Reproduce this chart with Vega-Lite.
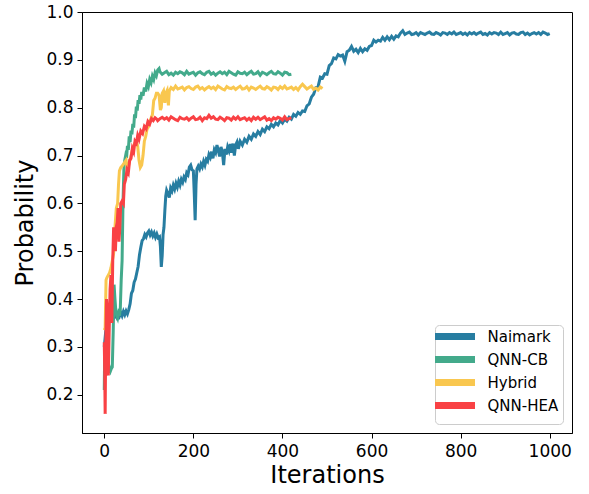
{
  "$schema": "https://vega.github.io/schema/vega-lite/v6.json",
  "width": 490,
  "height": 421,
  "autosize": "none",
  "padding": {"left": 82, "top": 12, "right": 17, "bottom": 61},
  "background": "white",
  "config": {
    "font": "DejaVu Sans",
    "view": {"stroke": "black", "strokeWidth": 1},
    "axis": {"grid": false, "domainColor": "black", "tickColor": "black", "tickSize": 5, "labelColor": "black", "titleColor": "black", "labelFontSize": 17, "titleFontSize": 24, "titleFontWeight": "normal", "labelFont": "DejaVu Sans", "titleFont": "DejaVu Sans"}
  },
  "datasets": {
    "Naimark": [{"i":0,"p":0.30},{"i":3,"p":0.33},{"i":6,"p":0.355},{"i":10,"p":0.365},{"i":13,"p":0.36},{"i":16,"p":0.369},{"i":19,"p":0.363},{"i":22,"p":0.361},{"i":25,"p":0.368},{"i":28,"p":0.362},{"i":31,"p":0.369},{"i":34,"p":0.364},{"i":37,"p":0.372},{"i":40,"p":0.365},{"i":43,"p":0.374},{"i":46,"p":0.367},{"i":49,"p":0.375},{"i":52,"p":0.369},{"i":55,"p":0.378},{"i":58,"p":0.39},{"i":61,"p":0.412},{"i":64,"p":0.418},{"i":67,"p":0.435},{"i":70,"p":0.442},{"i":73,"p":0.455},{"i":76,"p":0.468},{"i":79,"p":0.492},{"i":82,"p":0.508},{"i":85,"p":0.522},{"i":88,"p":0.526},{"i":91,"p":0.535},{"i":94,"p":0.53},{"i":97,"p":0.538},{"i":100,"p":0.542},{"i":103,"p":0.534},{"i":106,"p":0.54},{"i":109,"p":0.532},{"i":112,"p":0.538},{"i":115,"p":0.529},{"i":118,"p":0.536},{"i":121,"p":0.528},{"i":124,"p":0.53},{"i":126,"p":0.51},{"i":128,"p":0.467},{"i":130,"p":0.49},{"i":132,"p":0.535},{"i":134,"p":0.55},{"i":136,"p":0.585},{"i":138,"p":0.615},{"i":140,"p":0.627},{"i":143,"p":0.62},{"i":146,"p":0.612},{"i":149,"p":0.632},{"i":152,"p":0.626},{"i":155,"p":0.638},{"i":158,"p":0.63},{"i":161,"p":0.642},{"i":164,"p":0.634},{"i":167,"p":0.646},{"i":170,"p":0.638},{"i":173,"p":0.65},{"i":176,"p":0.644},{"i":179,"p":0.655},{"i":182,"p":0.65},{"i":185,"p":0.664},{"i":188,"p":0.66},{"i":191,"p":0.676},{"i":194,"p":0.68},{"i":197,"p":0.67},{"i":200,"p":0.668},{"i":202,"p":0.62},{"i":204,"p":0.565},{"i":206,"p":0.64},{"i":208,"p":0.672},{"i":211,"p":0.678},{"i":214,"p":0.672},{"i":217,"p":0.682},{"i":220,"p":0.676},{"i":223,"p":0.688},{"i":226,"p":0.68},{"i":229,"p":0.692},{"i":232,"p":0.688},{"i":235,"p":0.702},{"i":238,"p":0.696},{"i":241,"p":0.708},{"i":244,"p":0.694},{"i":247,"p":0.712},{"i":250,"p":0.706},{"i":253,"p":0.722},{"i":256,"p":0.71},{"i":259,"p":0.698},{"i":262,"p":0.718},{"i":265,"p":0.708},{"i":268,"p":0.68},{"i":271,"p":0.714},{"i":274,"p":0.702},{"i":277,"p":0.718},{"i":280,"p":0.71},{"i":283,"p":0.724},{"i":286,"p":0.706},{"i":289,"p":0.725},{"i":292,"p":0.7},{"i":295,"p":0.722},{"i":298,"p":0.728},{"i":301,"p":0.714},{"i":305,"p":0.73},{"i":310,"p":0.722},{"i":315,"p":0.734},{"i":320,"p":0.728},{"i":325,"p":0.74},{"i":330,"p":0.734},{"i":335,"p":0.745},{"i":340,"p":0.74},{"i":345,"p":0.75},{"i":350,"p":0.744},{"i":355,"p":0.755},{"i":360,"p":0.75},{"i":365,"p":0.76},{"i":370,"p":0.756},{"i":375,"p":0.765},{"i":380,"p":0.76},{"i":385,"p":0.768},{"i":390,"p":0.764},{"i":395,"p":0.773},{"i":400,"p":0.768},{"i":405,"p":0.776},{"i":410,"p":0.772},{"i":415,"p":0.78},{"i":420,"p":0.776},{"i":425,"p":0.786},{"i":430,"p":0.782},{"i":435,"p":0.79},{"i":440,"p":0.786},{"i":445,"p":0.793},{"i":450,"p":0.792},{"i":455,"p":0.804},{"i":460,"p":0.808},{"i":465,"p":0.822},{"i":470,"p":0.828},{"i":475,"p":0.842},{"i":480,"p":0.844},{"i":485,"p":0.864},{"i":490,"p":0.862},{"i":495,"p":0.871},{"i":500,"p":0.87},{"i":505,"p":0.888},{"i":510,"p":0.892},{"i":515,"p":0.904},{"i":520,"p":0.902},{"i":525,"p":0.911},{"i":530,"p":0.908},{"i":535,"p":0.91},{"i":540,"p":0.897},{"i":545,"p":0.917},{"i":550,"p":0.92},{"i":555,"p":0.928},{"i":560,"p":0.918},{"i":565,"p":0.922},{"i":570,"p":0.915},{"i":575,"p":0.924},{"i":580,"p":0.917},{"i":585,"p":0.923},{"i":590,"p":0.92},{"i":595,"p":0.928},{"i":600,"p":0.93},{"i":605,"p":0.941},{"i":610,"p":0.937},{"i":615,"p":0.941},{"i":620,"p":0.939},{"i":625,"p":0.947},{"i":630,"p":0.941},{"i":635,"p":0.948},{"i":640,"p":0.942},{"i":645,"p":0.949},{"i":650,"p":0.943},{"i":655,"p":0.95},{"i":660,"p":0.948},{"i":665,"p":0.956},{"i":670,"p":0.961},{"i":675,"p":0.953},{"i":680,"p":0.956},{"i":685,"p":0.958},{"i":690,"p":0.953},{"i":695,"p":0.954},{"i":700,"p":0.957},{"i":705,"p":0.952},{"i":710,"p":0.957},{"i":715,"p":0.955},{"i":720,"p":0.953},{"i":725,"p":0.956},{"i":730,"p":0.958},{"i":735,"p":0.954},{"i":740,"p":0.953},{"i":745,"p":0.957},{"i":750,"p":0.955},{"i":755,"p":0.952},{"i":760,"p":0.957},{"i":765,"p":0.956},{"i":770,"p":0.953},{"i":775,"p":0.957},{"i":780,"p":0.954},{"i":785,"p":0.958},{"i":790,"p":0.953},{"i":795,"p":0.955},{"i":800,"p":0.957},{"i":805,"p":0.953},{"i":810,"p":0.956},{"i":815,"p":0.952},{"i":820,"p":0.957},{"i":825,"p":0.954},{"i":830,"p":0.957},{"i":835,"p":0.953},{"i":840,"p":0.956},{"i":845,"p":0.958},{"i":850,"p":0.953},{"i":855,"p":0.955},{"i":860,"p":0.952},{"i":865,"p":0.957},{"i":870,"p":0.954},{"i":875,"p":0.957},{"i":880,"p":0.956},{"i":885,"p":0.953},{"i":890,"p":0.958},{"i":895,"p":0.953},{"i":900,"p":0.955},{"i":905,"p":0.957},{"i":910,"p":0.952},{"i":915,"p":0.956},{"i":920,"p":0.957},{"i":925,"p":0.954},{"i":930,"p":0.953},{"i":935,"p":0.957},{"i":940,"p":0.958},{"i":945,"p":0.953},{"i":950,"p":0.956},{"i":955,"p":0.952},{"i":960,"p":0.955},{"i":965,"p":0.957},{"i":970,"p":0.954},{"i":975,"p":0.957},{"i":980,"p":0.953},{"i":985,"p":0.958},{"i":990,"p":0.956},{"i":995,"p":0.953},{"i":1000,"p":0.955}],
    "QNN-CB": [{"i":0,"p":0.21},{"i":1,"p":0.30},{"i":2,"p":0.27},{"i":4,"p":0.255},{"i":6,"p":0.25},{"i":8,"p":0.258},{"i":10,"p":0.252},{"i":12,"p":0.256},{"i":14,"p":0.25},{"i":16,"p":0.255},{"i":18,"p":0.258},{"i":20,"p":0.33},{"i":22,"p":0.43},{"i":24,"p":0.40},{"i":26,"p":0.375},{"i":28,"p":0.365},{"i":30,"p":0.36},{"i":32,"p":0.37},{"i":34,"p":0.365},{"i":36,"p":0.38},{"i":38,"p":0.44},{"i":40,"p":0.48},{"i":42,"p":0.60},{"i":44,"p":0.67},{"i":46,"p":0.69},{"i":48,"p":0.70},{"i":50,"p":0.695},{"i":52,"p":0.72},{"i":54,"p":0.712},{"i":56,"p":0.74},{"i":58,"p":0.728},{"i":60,"p":0.752},{"i":62,"p":0.744},{"i":64,"p":0.766},{"i":66,"p":0.758},{"i":68,"p":0.786},{"i":70,"p":0.778},{"i":72,"p":0.802},{"i":74,"p":0.794},{"i":76,"p":0.816},{"i":78,"p":0.808},{"i":80,"p":0.826},{"i":82,"p":0.817},{"i":84,"p":0.833},{"i":87,"p":0.825},{"i":90,"p":0.842},{"i":93,"p":0.834},{"i":96,"p":0.851},{"i":99,"p":0.844},{"i":102,"p":0.859},{"i":105,"p":0.852},{"i":108,"p":0.866},{"i":111,"p":0.859},{"i":114,"p":0.873},{"i":117,"p":0.867},{"i":120,"p":0.879},{"i":123,"p":0.882},{"i":125,"p":0.875},{"i":130,"p":0.87},{"i":135,"p":0.873},{"i":140,"p":0.876},{"i":145,"p":0.869},{"i":150,"p":0.872},{"i":155,"p":0.868},{"i":160,"p":0.874},{"i":165,"p":0.871},{"i":170,"p":0.875},{"i":175,"p":0.873},{"i":180,"p":0.869},{"i":185,"p":0.876},{"i":190,"p":0.87},{"i":195,"p":0.872},{"i":200,"p":0.874},{"i":205,"p":0.868},{"i":210,"p":0.873},{"i":215,"p":0.875},{"i":220,"p":0.871},{"i":225,"p":0.869},{"i":230,"p":0.874},{"i":235,"p":0.876},{"i":240,"p":0.87},{"i":245,"p":0.873},{"i":250,"p":0.868},{"i":255,"p":0.872},{"i":260,"p":0.875},{"i":265,"p":0.871},{"i":270,"p":0.874},{"i":275,"p":0.869},{"i":280,"p":0.876},{"i":285,"p":0.873},{"i":290,"p":0.87},{"i":295,"p":0.868},{"i":300,"p":0.875},{"i":305,"p":0.872},{"i":310,"p":0.871},{"i":315,"p":0.874},{"i":320,"p":0.869},{"i":325,"p":0.873},{"i":330,"p":0.876},{"i":335,"p":0.87},{"i":340,"p":0.871},{"i":345,"p":0.875},{"i":350,"p":0.868},{"i":355,"p":0.874},{"i":360,"p":0.872},{"i":365,"p":0.869},{"i":370,"p":0.873},{"i":375,"p":0.876},{"i":380,"p":0.871},{"i":385,"p":0.87},{"i":390,"p":0.875},{"i":395,"p":0.872},{"i":400,"p":0.868},{"i":405,"p":0.874},{"i":410,"p":0.873},{"i":415,"p":0.869},{"i":420,"p":0.87}],
    "Hybrid": [{"i":0,"p":0.335},{"i":2,"p":0.34},{"i":4,"p":0.44},{"i":6,"p":0.445},{"i":9,"p":0.45},{"i":12,"p":0.455},{"i":15,"p":0.465},{"i":18,"p":0.48},{"i":21,"p":0.495},{"i":24,"p":0.55},{"i":27,"p":0.59},{"i":30,"p":0.60},{"i":32,"p":0.64},{"i":34,"p":0.668},{"i":37,"p":0.675},{"i":40,"p":0.678},{"i":43,"p":0.682},{"i":46,"p":0.686},{"i":49,"p":0.69},{"i":52,"p":0.67},{"i":56,"p":0.685},{"i":60,"p":0.70},{"i":64,"p":0.715},{"i":68,"p":0.725},{"i":72,"p":0.73},{"i":75,"p":0.72},{"i":78,"p":0.69},{"i":81,"p":0.675},{"i":84,"p":0.68},{"i":87,"p":0.70},{"i":90,"p":0.73},{"i":93,"p":0.74},{"i":96,"p":0.755},{"i":99,"p":0.76},{"i":102,"p":0.77},{"i":105,"p":0.778},{"i":108,"p":0.785},{"i":111,"p":0.815},{"i":114,"p":0.82},{"i":117,"p":0.83},{"i":120,"p":0.83},{"i":123,"p":0.826},{"i":126,"p":0.795},{"i":128,"p":0.80},{"i":130,"p":0.83},{"i":133,"p":0.835},{"i":136,"p":0.81},{"i":138,"p":0.83},{"i":141,"p":0.836},{"i":144,"p":0.805},{"i":146,"p":0.835},{"i":150,"p":0.842},{"i":155,"p":0.838},{"i":160,"p":0.845},{"i":165,"p":0.839},{"i":170,"p":0.841},{"i":175,"p":0.843},{"i":180,"p":0.837},{"i":185,"p":0.842},{"i":190,"p":0.844},{"i":195,"p":0.84},{"i":200,"p":0.838},{"i":205,"p":0.843},{"i":210,"p":0.845},{"i":215,"p":0.839},{"i":220,"p":0.842},{"i":225,"p":0.837},{"i":230,"p":0.841},{"i":235,"p":0.844},{"i":240,"p":0.84},{"i":245,"p":0.843},{"i":250,"p":0.838},{"i":255,"p":0.845},{"i":260,"p":0.842},{"i":265,"p":0.839},{"i":270,"p":0.837},{"i":275,"p":0.844},{"i":280,"p":0.841},{"i":285,"p":0.84},{"i":290,"p":0.843},{"i":295,"p":0.838},{"i":300,"p":0.842},{"i":305,"p":0.845},{"i":310,"p":0.839},{"i":315,"p":0.84},{"i":320,"p":0.844},{"i":325,"p":0.837},{"i":330,"p":0.843},{"i":335,"p":0.841},{"i":340,"p":0.838},{"i":345,"p":0.842},{"i":350,"p":0.845},{"i":355,"p":0.84},{"i":360,"p":0.839},{"i":365,"p":0.844},{"i":370,"p":0.841},{"i":375,"p":0.837},{"i":380,"p":0.843},{"i":385,"p":0.842},{"i":390,"p":0.838},{"i":395,"p":0.844},{"i":400,"p":0.84},{"i":405,"p":0.845},{"i":410,"p":0.839},{"i":415,"p":0.841},{"i":420,"p":0.843},{"i":425,"p":0.838},{"i":430,"p":0.842},{"i":435,"p":0.837},{"i":440,"p":0.844},{"i":445,"p":0.849},{"i":450,"p":0.844},{"i":455,"p":0.839},{"i":460,"p":0.842},{"i":465,"p":0.845},{"i":470,"p":0.838},{"i":475,"p":0.841},{"i":480,"p":0.837},{"i":485,"p":0.843},{"i":490,"p":0.84}],
    "QNN-HEA": [{"i":0,"p":0.31},{"i":1,"p":0.25},{"i":2,"p":0.16},{"i":3,"p":0.28},{"i":5,"p":0.40},{"i":7,"p":0.37},{"i":9,"p":0.24},{"i":11,"p":0.33},{"i":13,"p":0.42},{"i":15,"p":0.45},{"i":17,"p":0.35},{"i":19,"p":0.48},{"i":21,"p":0.55},{"i":23,"p":0.52},{"i":25,"p":0.50},{"i":27,"p":0.55},{"i":29,"p":0.56},{"i":31,"p":0.59},{"i":33,"p":0.52},{"i":35,"p":0.55},{"i":37,"p":0.60},{"i":40,"p":0.605},{"i":43,"p":0.60},{"i":45,"p":0.64},{"i":48,"p":0.65},{"i":51,"p":0.67},{"i":54,"p":0.664},{"i":57,"p":0.69},{"i":60,"p":0.694},{"i":63,"p":0.715},{"i":66,"p":0.708},{"i":69,"p":0.73},{"i":72,"p":0.726},{"i":75,"p":0.742},{"i":78,"p":0.734},{"i":82,"p":0.751},{"i":86,"p":0.746},{"i":90,"p":0.761},{"i":94,"p":0.756},{"i":98,"p":0.771},{"i":102,"p":0.766},{"i":106,"p":0.777},{"i":110,"p":0.773},{"i":114,"p":0.779},{"i":118,"p":0.776},{"i":120,"p":0.773},{"i":125,"p":0.777},{"i":130,"p":0.78},{"i":135,"p":0.776},{"i":140,"p":0.779},{"i":145,"p":0.774},{"i":150,"p":0.781},{"i":155,"p":0.778},{"i":160,"p":0.775},{"i":165,"p":0.773},{"i":170,"p":0.78},{"i":175,"p":0.777},{"i":180,"p":0.776},{"i":185,"p":0.779},{"i":190,"p":0.774},{"i":195,"p":0.778},{"i":200,"p":0.781},{"i":205,"p":0.775},{"i":210,"p":0.776},{"i":215,"p":0.78},{"i":220,"p":0.773},{"i":225,"p":0.779},{"i":230,"p":0.777},{"i":235,"p":0.784},{"i":240,"p":0.778},{"i":245,"p":0.781},{"i":250,"p":0.776},{"i":255,"p":0.775},{"i":260,"p":0.78},{"i":265,"p":0.777},{"i":270,"p":0.773},{"i":275,"p":0.779},{"i":280,"p":0.778},{"i":285,"p":0.774},{"i":290,"p":0.78},{"i":295,"p":0.776},{"i":300,"p":0.781},{"i":305,"p":0.775},{"i":310,"p":0.777},{"i":315,"p":0.779},{"i":320,"p":0.774},{"i":325,"p":0.778},{"i":330,"p":0.773},{"i":335,"p":0.78},{"i":340,"p":0.776},{"i":345,"p":0.78},{"i":350,"p":0.775},{"i":355,"p":0.778},{"i":360,"p":0.781},{"i":365,"p":0.774},{"i":370,"p":0.777},{"i":375,"p":0.773},{"i":380,"p":0.779},{"i":385,"p":0.776},{"i":390,"p":0.78},{"i":395,"p":0.778},{"i":400,"p":0.774},{"i":405,"p":0.781},{"i":410,"p":0.775},{"i":415,"p":0.777},{"i":420,"p":0.779}]
  },
  "encoding": {
    "x": {"field": "i", "type": "quantitative", "scale": {"domain": [-50, 1050], "nice": false, "zero": false}, "axis": {"values": [0, 200, 400, 600, 800, 1000], "format": "d", "title": "Iterations", "labelPadding": 5, "titlePadding": 4}},
    "y": {"field": "p", "type": "quantitative", "scale": {"domain": [0.12, 1.0], "nice": false, "zero": false}, "axis": {"values": [0.2, 0.3, 0.4, 0.5, 0.6, 0.7, 0.8, 0.9, 1.0], "format": ".1f", "title": "Probability", "labelPadding": 4, "titlePadding": 8}}
  },
  "layer": [
    {"data": {"name": "Naimark"}, "mark": {"type": "line", "strokeWidth": 3}, "encoding": {"color": {"datum": "Naimark", "type": "nominal", "scale": {"domain": ["Naimark", "QNN-CB", "Hybrid", "QNN-HEA"], "range": ["#277da1", "#43aa8b", "#f9c74f", "#f94144"]}, "legend": {"title": null, "orient": "bottom-right", "offset": 9, "symbolType": "M-5,0H5", "symbolSize": 64, "symbolStrokeWidth": 7, "symbolOffset": 8.5, "labelOffset": 25, "labelFontSize": 15, "labelFont": "DejaVu Sans", "labelColor": "black", "padding": 4, "strokeColor": "#cccccc", "fillColor": "white", "cornerRadius": 4, "rowPadding": -6}}}},
    {"data": {"name": "QNN-CB"}, "mark": {"type": "line", "strokeWidth": 3}, "encoding": {"color": {"datum": "QNN-CB", "type": "nominal"}}},
    {"data": {"name": "Hybrid"}, "mark": {"type": "line", "strokeWidth": 3}, "encoding": {"color": {"datum": "Hybrid", "type": "nominal"}}},
    {"data": {"name": "QNN-HEA"}, "mark": {"type": "line", "strokeWidth": 3}, "encoding": {"color": {"datum": "QNN-HEA", "type": "nominal"}}}
  ]
}
